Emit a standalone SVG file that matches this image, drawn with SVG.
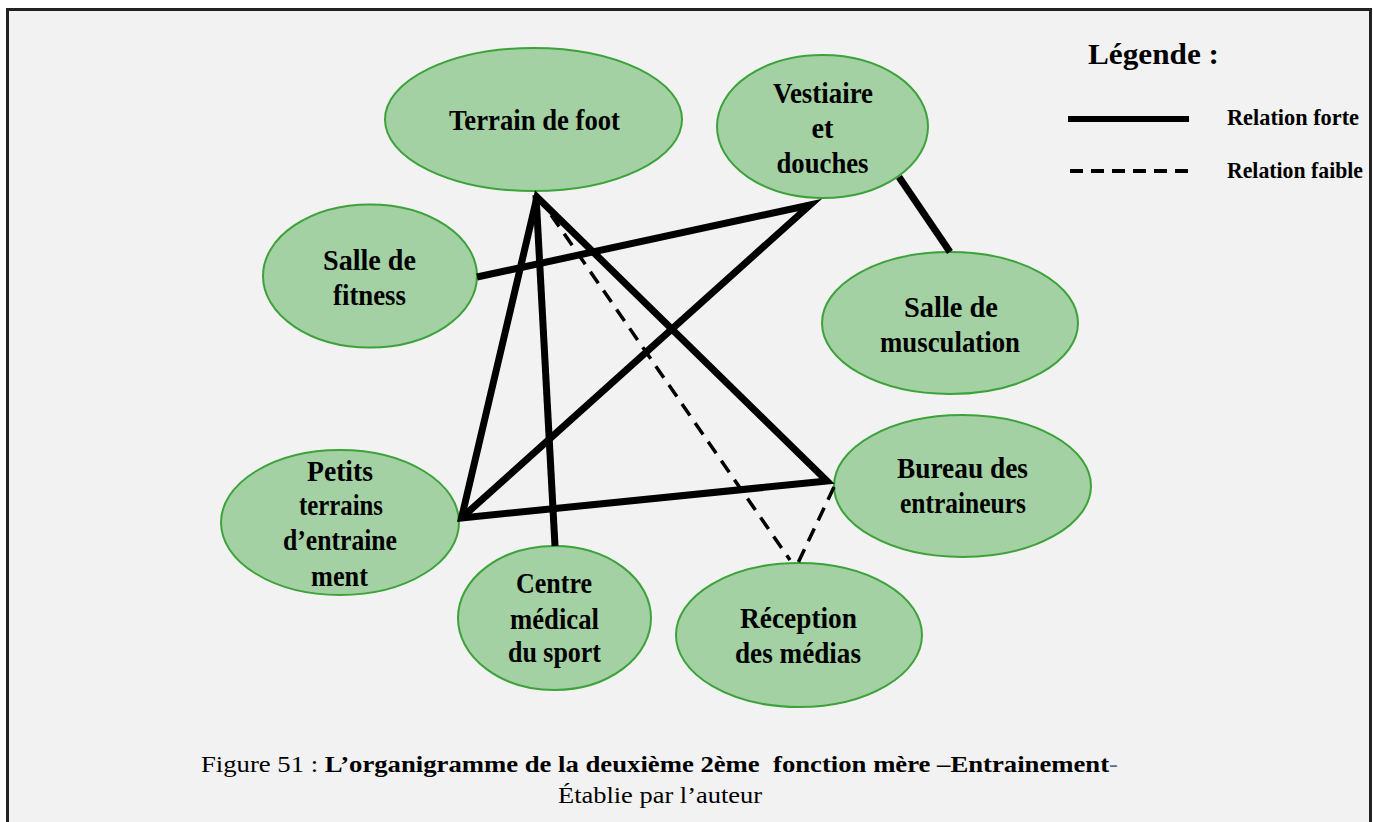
<svg xmlns="http://www.w3.org/2000/svg" width="1373" height="822" viewBox="0 0 1373 822">
  <style>
    .node { fill: #a3d1a3; stroke: #3da23a; stroke-width: 2; }
    .lbl { font-family: "Liberation Serif", "Times New Roman", serif; font-weight: bold; font-size: 29px; fill: #000; text-anchor: middle; }
    .strong { fill: none; stroke: #000; stroke-width: 7; stroke-linecap: butt; stroke-linejoin: miter; stroke-miterlimit: 6; }
    .weak { fill: none; stroke: #000; stroke-width: 3.5; stroke-dasharray: 14 9; }
    .leg { font-family: "Liberation Serif", "Times New Roman", serif; font-weight: bold; fill: #000; }
    .cap { font-family: "Liberation Serif", "Times New Roman", serif; font-size: 24px; fill: #000; }
  </style>

  <!-- page and frame -->
  <rect x="0" y="0" width="1373" height="822" fill="#ffffff"/>
  <rect x="7.5" y="9.5" width="1363" height="830" fill="#f2f2f2" stroke="#222" stroke-width="3"/>

  <!-- nodes -->
  <g id="terrain-foot">
    <ellipse class="node" cx="533.5" cy="119.5" rx="148.5" ry="71.5"/>
    <text class="lbl" x="534.5" y="130" textLength="171" lengthAdjust="spacingAndGlyphs">Terrain de foot</text>
  </g>
  <g id="vestiaire">
    <ellipse class="node" cx="822.5" cy="126.5" rx="105.5" ry="71.5"/>
    <text class="lbl" x="823" y="103" textLength="100" lengthAdjust="spacingAndGlyphs">Vestiaire</text>
    <text class="lbl" x="822.5" y="138" textLength="22" lengthAdjust="spacingAndGlyphs">et</text>
    <text class="lbl" x="822.5" y="173" textLength="92" lengthAdjust="spacingAndGlyphs">douches</text>
  </g>
  <g id="salle-fitness">
    <ellipse class="node" cx="370" cy="276" rx="107" ry="71.5"/>
    <text class="lbl" x="369.5" y="270" textLength="93" lengthAdjust="spacingAndGlyphs">Salle de</text>
    <text class="lbl" x="369.5" y="305" textLength="73" lengthAdjust="spacingAndGlyphs">fitness</text>
  </g>
  <g id="salle-musculation">
    <ellipse class="node" cx="950" cy="323" rx="128" ry="71"/>
    <text class="lbl" x="951" y="317" textLength="94" lengthAdjust="spacingAndGlyphs">Salle de</text>
    <text class="lbl" x="950" y="352" textLength="140" lengthAdjust="spacingAndGlyphs">musculation</text>
  </g>
  <g id="bureau-entraineurs">
    <ellipse class="node" cx="962.5" cy="486" rx="128.5" ry="71"/>
    <text class="lbl" x="962.5" y="478" textLength="131" lengthAdjust="spacingAndGlyphs">Bureau des</text>
    <text class="lbl" x="963" y="513" textLength="126" lengthAdjust="spacingAndGlyphs">entraineurs</text>
  </g>
  <g id="petits-terrains">
    <ellipse class="node" cx="340" cy="522.5" rx="119" ry="72.5"/>
    <text class="lbl" x="340" y="481" textLength="66" lengthAdjust="spacingAndGlyphs">Petits</text>
    <text class="lbl" x="341" y="515" textLength="84" lengthAdjust="spacingAndGlyphs">terrains</text>
    <text class="lbl" x="340" y="550" textLength="114" lengthAdjust="spacingAndGlyphs">d’entraine</text>
    <text class="lbl" x="339.5" y="586" textLength="57" lengthAdjust="spacingAndGlyphs">ment</text>
  </g>
  <g id="centre-medical">
    <ellipse class="node" cx="554.5" cy="618" rx="96.5" ry="72"/>
    <text class="lbl" x="554" y="593" textLength="76" lengthAdjust="spacingAndGlyphs">Centre</text>
    <text class="lbl" x="554.5" y="629" textLength="89" lengthAdjust="spacingAndGlyphs">médical</text>
    <text class="lbl" x="554.5" y="662" textLength="93" lengthAdjust="spacingAndGlyphs">du sport</text>
  </g>
  <g id="reception-medias">
    <ellipse class="node" cx="799" cy="635" rx="123" ry="72"/>
    <text class="lbl" x="798.5" y="628" textLength="117" lengthAdjust="spacingAndGlyphs">Réception</text>
    <text class="lbl" x="798" y="663" textLength="126" lengthAdjust="spacingAndGlyphs">des médias</text>
  </g>

  <!-- connectors -->
  <g id="connectors">
    <!-- weak relations -->
    <line class="weak" x1="538" y1="196" x2="790" y2="560"/>
    <line class="weak" x1="834" y1="487" x2="798" y2="563"/>
    <!-- strong relations -->
    <line class="strong" x1="536" y1="195" x2="555" y2="546"/>
    <path class="strong" d="M537,197 L461.5,518 L827,481 Z"/>
    <path class="strong" d="M477,277 L810,205 L461.5,518"/>
    <line class="strong" x1="899" y1="177" x2="950" y2="252"/>
  </g>

  <!-- legend -->
  <g id="legend">
    <text class="leg" x="1088" y="64" font-size="30" textLength="131" lengthAdjust="spacingAndGlyphs">Légende :</text>
    <line x1="1068" y1="119" x2="1189" y2="119" stroke="#000" stroke-width="6"/>
    <text class="leg" x="1227" y="125" font-size="23" textLength="132" lengthAdjust="spacingAndGlyphs">Relation forte</text>
    <line x1="1070" y1="171" x2="1190" y2="171" stroke="#000" stroke-width="4" stroke-dasharray="13 8"/>
    <text class="leg" x="1227" y="178" font-size="23" textLength="136" lengthAdjust="spacingAndGlyphs">Relation faible</text>
  </g>

  <!-- caption -->
  <g id="caption">
    <text class="cap" x="201" y="772" xml:space="preserve" textLength="917" lengthAdjust="spacingAndGlyphs">Figure 51 : <tspan font-weight="bold">L’organigramme de la deuxième 2ème  fonction mère –Entrainement</tspan><tspan fill="#5b6b8c">-</tspan></text>
    <text class="cap" x="660" y="803" text-anchor="middle" textLength="204" lengthAdjust="spacingAndGlyphs">Établie par l’auteur</text>
  </g>
</svg>
